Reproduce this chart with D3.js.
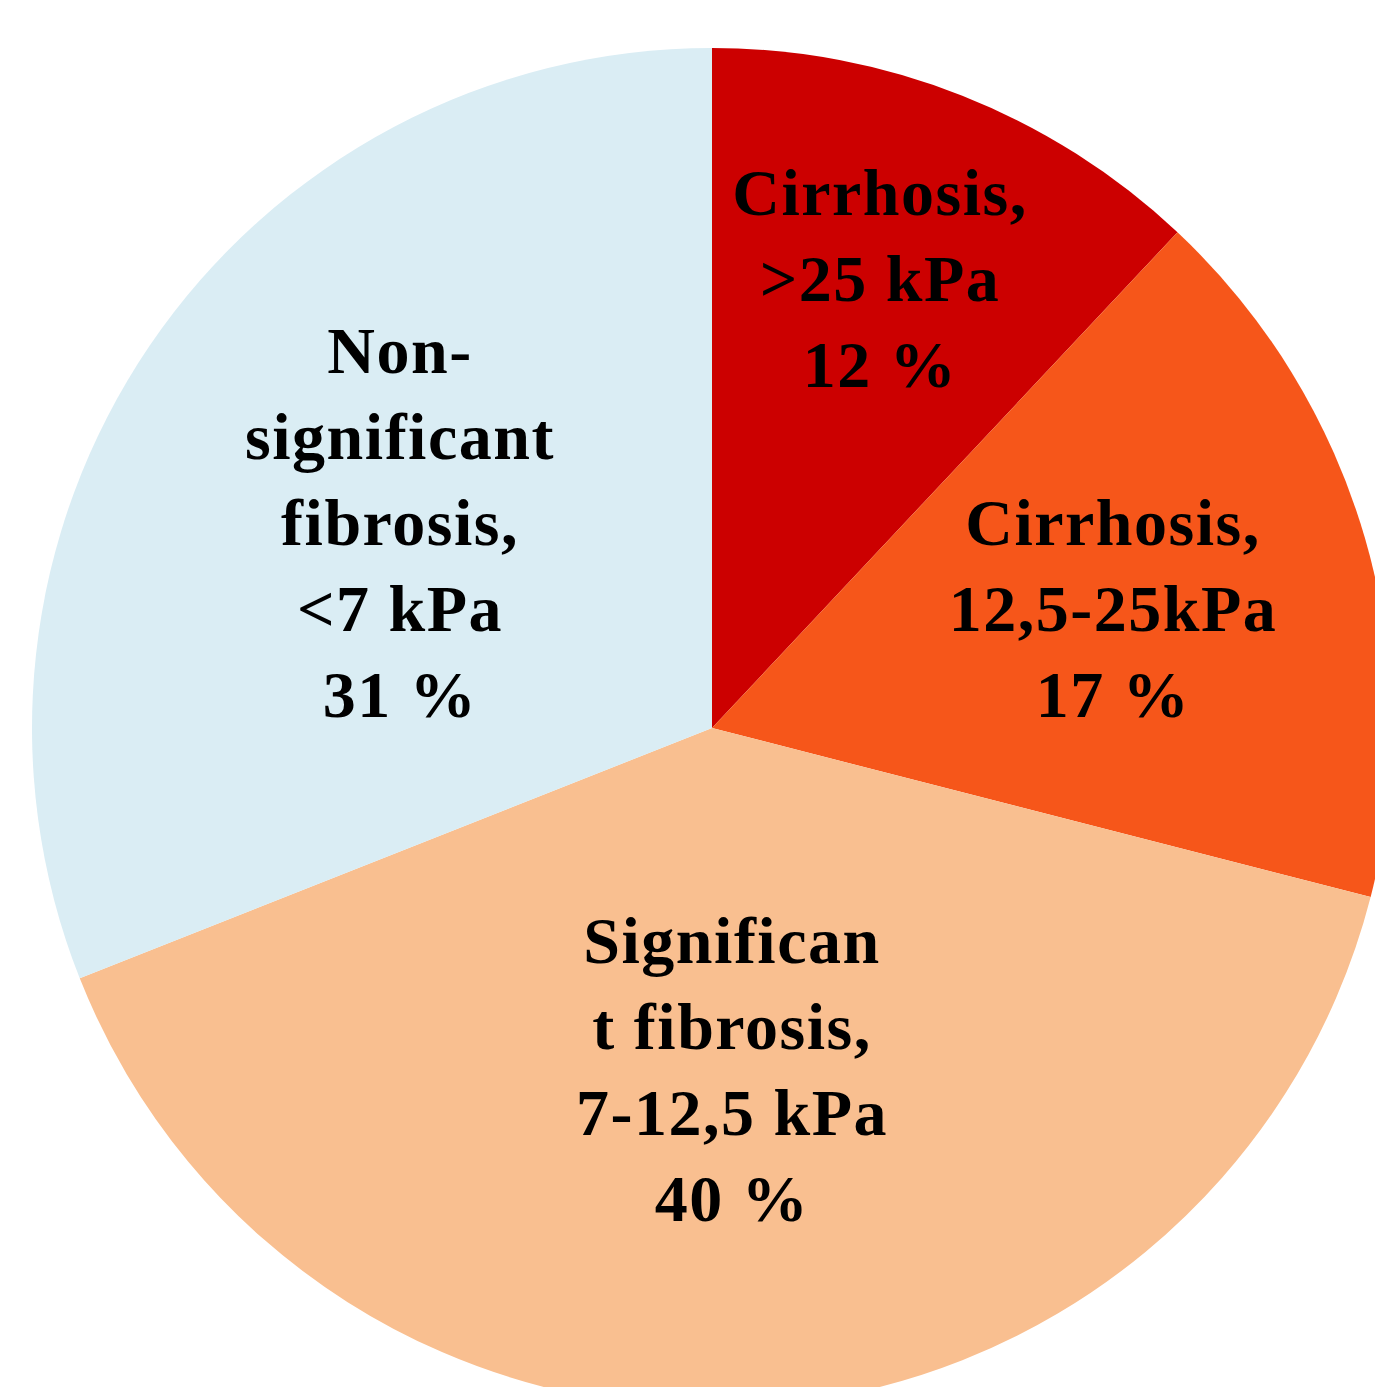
<!DOCTYPE html>
<html lang="en">
<head>
  <meta charset="UTF-8">
  <title>Liver stiffness</title>
  <style>
    body { margin: 0; background: #fff; }
    text { font-family: "Liberation Serif", "Times New Roman", serif; font-weight: bold; fill: #000; }
  </style>
</head>
<body>

<svg id="chart" width="1375" height="1387"></svg>

<script src="https://d3js.org/d3.v7.min.js"></script>

<script>

    var categories = ["Cirrhosis >25 kPa", "Cirrhosis 12,5-25 kPa", "Significant fibrosis", "Non-significant fibrosis"];
    var values = [12, 17, 40, 31];
    var labels = [
      ["Cirrhosis,", ">25 kPa", "12 %"],
      ["Cirrhosis,", "12,5-25kPa", "17 %"],
      ["Significan", "t fibrosis,", "7-12,5 kPa", "40 %"],
      ["Non-", "significant", "fibrosis,", "<7 kPa", "31 %"]
    ];
    var colors = ["#CC0000", "#F6561A", "#F9BF90", "#DAEDF4"];

    // first baseline of each label, relative to pie centre
    var labelOffset = [[168, -513], [401, -183], [20, 235], [-312, -355]];

    var svg = d3.select("#chart"),
        cx = 712, cy = 728, r = 680,
        lineH = 86;

    var pie = d3.pie().sort(null).value(function (d) { return d; });
    var arc = d3.arc().innerRadius(0).outerRadius(r);

    var g = svg.append("g").attr("transform", "translate(" + cx + "," + cy + ")");

    g.selectAll("path")
      .data(pie(values))
      .enter().append("path")
      .attr("d", arc)
      .attr("fill", function (d, i) { return colors[i]; });

    var lab = g.selectAll("text.lab")
      .data(labels)
      .enter().append("text")
      .attr("class", "lab")
      .attr("text-anchor", "middle")
      .style("font-size", "66px")
      .style("letter-spacing", "1.5px");

    lab.selectAll("tspan")
      .data(function (d, i) { return d.map(function (s) { return { s: s, i: i }; }); })
      .enter().append("tspan")
      .attr("x", function (d) { return labelOffset[d.i][0]; })
      .attr("y", function (d, j) { return labelOffset[d.i][1] + j * lineH; })
      .text(function (d) { return d.s; });

</script>

</body>
</html>
